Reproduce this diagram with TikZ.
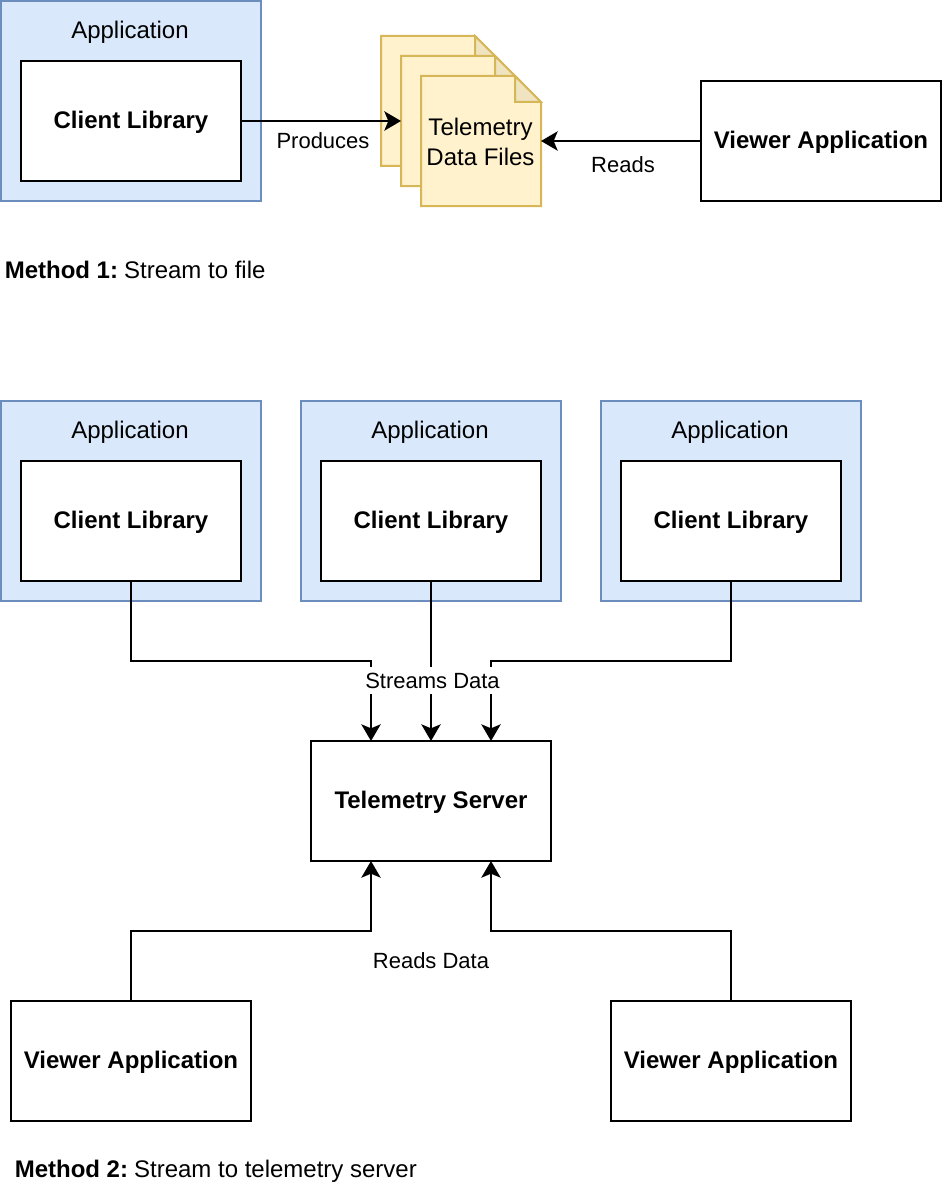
\documentclass[tikz,border=0pt]{standalone}
\usepackage{fontspec}
\setmainfont{Liberation Sans}
\usetikzlibrary{arrows.meta}

\definecolor{appfill}{HTML}{DAE8FC}
\definecolor{appline}{HTML}{6C8EBF}
\definecolor{sheetfill}{HTML}{FFF2CC}
\definecolor{sheetline}{HTML}{D6B656}
\definecolor{sheetfold}{HTML}{EFE3C0}

\tikzset{
    appbox/.style={draw=appline, fill=appfill, line width=1.5pt, outer sep=0pt, minimum width=195pt, minimum height=150pt},
    whitebox/.style={draw=black, fill=white, line width=1.5pt, outer sep=0pt, inner sep=0pt, text height=15pt, text depth=4pt, font=\fontsize{18}{21}\selectfont\bfseries},
    libbox/.style={whitebox, minimum width=165pt, minimum height=90pt},
    viewerbox/.style={whitebox, minimum width=180pt, minimum height=90pt},
    sheetbox/.style={outer sep=0pt, inner sep=0pt, minimum width=90pt, minimum height=97.5pt},
    boxtitle/.style={inner sep=0pt, font=\fontsize{18}{21}\selectfont},
    edgetext/.style={fill=white, inner xsep=1.5pt, inner ysep=4pt, font=\fontsize{16.5}{20}\selectfont},
    flow/.style={draw=black, line width=1.5pt, -{Stealth[length=12.5pt, width=14.5pt, inset=3pt]}}
}

\begin{document}
\begin{tikzpicture}[x=0.75pt, y=-0.75pt]
    \useasboundingbox (0,0) rectangle (942,1202);

    % Method 1
    \node[appbox] (appTop) at (131,101) {};
    \node[boxtitle] (appTopTitle) at (130,32) {Application};
    \node[libbox] (libTop) at (131,121) {Client Library};
    \node[viewerbox] (viewerTop) at (821,141) {Viewer Application};

    % Stacked files
    \foreach \name/\x/\y in {sheetA/441/101, sheetB/461/121, sheetC/481/141} {
        \node[sheetbox] (\name) at (\x,\y) {};
        \draw[draw=sheetline, fill=sheetfill, line width=1.5pt, line join=miter]
            (\name.north west) -- ([xshift=-19.5pt]\name.north east)
            -- ([yshift=-19.5pt]\name.north east) -- (\name.south east)
            -- (\name.south west) -- cycle;
        \draw[draw=sheetline, fill=sheetfold, line width=1.5pt]
            ([xshift=-19.5pt]\name.north east) -- ([xshift=-19.5pt, yshift=-19.5pt]\name.north east)
            -- ([yshift=-19.5pt]\name.north east) -- cycle;
    }
    \node[boxtitle, align=center] (filesText) at (480.5,141.5) {Telemetry\\[1.5pt]Data Files};

    \draw[flow] (libTop.east) -- (sheetB.west);
    \draw[flow] (viewerTop.west) -- (sheetC.east);
    \node[edgetext] (producesText) at (323,141) {Produces};
    \node[edgetext] (readsText) at (623,165) {Reads};

    \node[boxtitle, anchor=west] (methodOne) at (4.5,270) {\textbf{Method 1:}\kern4.5pt Stream to file};

    % Method 2
    \foreach \name/\x in {A/131, B/431, C/731} {
        \node[appbox] (app\name) at (\x,501) {};
        \node[boxtitle] (app\name Title) at (\x-1,432) {Application};
        \node[libbox] (lib\name) at (\x,521) {Client Library};
    }
    \node[whitebox, minimum width=180pt, minimum height=90pt] (server) at (431,801) {Telemetry Server};
    \node[viewerbox] (viewerA) at (131,1061) {Viewer Application};
    \node[viewerbox] (viewerB) at (731,1061) {Viewer Application};

    % Streams into the server
    \draw[flow] (libA.south) -- ++(0,80) -| ([xshift=-45pt]server.north);
    \draw[flow] (libB.south) -- (server.north);
    \draw[flow] (libC.south) -- ++(0,80) -| ([xshift=45pt]server.north);
    \node[edgetext] (streamsText) at (432.5,680.5) {Streams Data};

    % Readers
    \draw[flow] (viewerA.north) -- ++(0,-70) -| ([xshift=-45pt]server.south);
    \draw[flow] (viewerB.north) -- ++(0,-70) -| ([xshift=45pt]server.south);
    \node[edgetext] (readsDataText) at (431,961) {Reads Data};

    \node[boxtitle, anchor=west] (methodTwo) at (14.5,1171.5) {\textbf{Method 2:}\kern4.5pt Stream to telemetry server};
\end{tikzpicture}
\end{document}
